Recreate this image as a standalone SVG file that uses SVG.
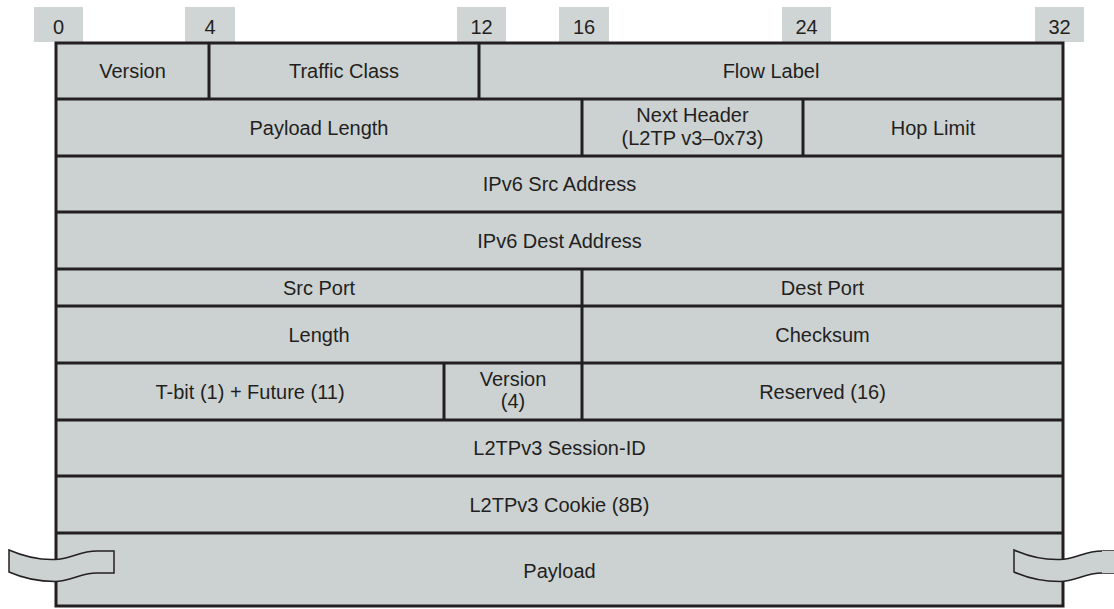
<svg xmlns="http://www.w3.org/2000/svg" width="1114" height="609" viewBox="0 0 1114 609">
<style>
.bg{fill:#ffffff}
.tag{fill:#cfd5d5}
.frame{fill:#ccd2d2;stroke:#231f20;stroke-width:3}
.line{stroke:#231f20;stroke-width:3;fill:none}
.wave{fill:#ccd2d2;stroke:#231f20;stroke-width:1.5}
text{font-family:"Liberation Sans",Arial,sans-serif;font-size:20px;fill:#231f20;text-anchor:middle}
</style>
<defs>
<path id="wavepiece" d="M9,550 C25,557 40,560 55,559.5 C70,559 80,551 97,551 L114,551 L114,573 L97,573 C80,573 70,581.5 55,581.5 C40,581.5 25,579 9,572 Z"/>
</defs>
<rect class="bg" x="0" y="0" width="1114" height="609"/>
<g id="bit-scale">
<rect class="tag" x="34" y="7" width="49" height="35"/><text x="58.5" y="34">0</text>
<rect class="tag" x="185" y="7" width="50" height="35"/><text x="210" y="34">4</text>
<rect class="tag" x="457" y="7" width="49" height="35"/><text x="481.5" y="34">12</text>
<rect class="tag" x="559" y="7" width="50" height="35"/><text x="584" y="34">16</text>
<rect class="tag" x="782" y="7" width="49" height="35"/><text x="806.5" y="34">24</text>
<rect class="tag" x="1035" y="7" width="49" height="35"/><text x="1059.5" y="34">32</text>
</g>
<g id="frame">
<rect class="frame" x="56" y="43" width="1007" height="563"/>
</g>
<g id="connectors">
<path class="line" d="M56,99H1063 M56,156H1063 M56,212H1063 M56,269H1063 M56,306H1063 M56,363H1063 M56,420H1063 M56,476H1063 M56,533H1063"/>
<path class="line" d="M209,43V99 M479,43V99 M582,99V156 M803,99V156 M582,269V420 M444,363V420"/>
</g>
<g id="version"><text x="132.5" y="78">Version</text></g>
<g id="traffic-class"><text x="344" y="78">Traffic Class</text></g>
<g id="flow-label"><text x="771" y="78">Flow Label</text></g>
<g id="payload-length"><text x="319" y="134.5">Payload Length</text></g>
<g id="next-header"><text x="692.5" y="122">Next Header</text><text x="692.5" y="145">(L2TP v3–0x73)</text></g>
<g id="hop-limit"><text x="933" y="134.5">Hop Limit</text></g>
<g id="ipv6-src"><text x="559.5" y="191">IPv6 Src Address</text></g>
<g id="ipv6-dest"><text x="559.5" y="247.5">IPv6 Dest Address</text></g>
<g id="src-port"><text x="319" y="294.5">Src Port</text></g>
<g id="dest-port"><text x="822.5" y="294.5">Dest Port</text></g>
<g id="length"><text x="319" y="341.5">Length</text></g>
<g id="checksum"><text x="822.5" y="341.5">Checksum</text></g>
<g id="tbit-future"><text x="250" y="399">T-bit (1) + Future (11)</text></g>
<g id="version4"><text x="513" y="385.5">Version</text><text x="513" y="408">(4)</text></g>
<g id="reserved"><text x="822.5" y="399">Reserved (16)</text></g>
<g id="session-id"><text x="559.5" y="455">L2TPv3 Session-ID</text></g>
<g id="cookie"><text x="559.5" y="511.5">L2TPv3 Cookie (8B)</text></g>
<g id="payload">
<text x="559.5" y="578">Payload</text>
<use href="#wavepiece" class="wave"/>
<use href="#wavepiece" class="wave" transform="translate(1005,0)"/>
<path class="wave" d="M1102,551 L1125,551 L1125,573 L1102,573 Z" style="stroke:none"/>
</g>
</svg>
